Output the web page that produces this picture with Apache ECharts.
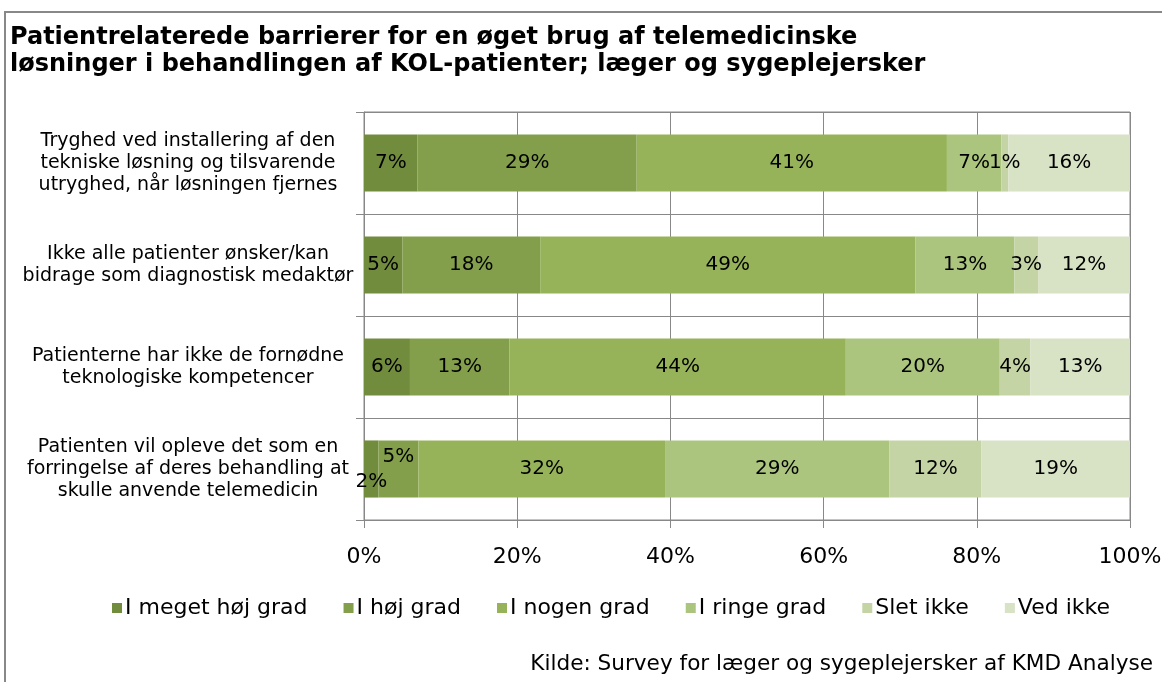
<!DOCTYPE html>
<html>
<head>
<meta charset="utf-8">
<script src="https://cdn.jsdelivr.net/npm/echarts@6/dist/echarts.min.js"></script>
<style>
html,body{margin:0;padding:0;background:#fff;}
#chart{width:1162px;height:682px;}
</style>
</head>
<body>
<div id="chart"></div>
<script>
// kategorier (øverst først)
var categories = [
	"Tryghed ved installering af den\ntekniske løsning og tilsvarende\nutryghed, når løsningen fjernes",
	"Ikke alle patienter ønsker/kan\nbidrage som diagnostisk medaktør",
	"Patienterne har ikke de fornødne\nteknologiske kompetencer",
	"Patienten vil opleve det som en\nforringelse af deres behandling at\nskulle anvende telemedicin"
];
var seriesNames = ["I meget høj grad","I høj grad","I nogen grad","I ringe grad","Slet ikke","Ved ikke"];
// andele i procent pr. svarkategori
var megetHoj = [7.0, 5.0, 6.0, 1.9];
var hoj = [28.6, 18.0, 13.0, 5.2];
var nogen = [40.5, 49.0, 43.9, 32.2];
var ringe = [7.1, 12.9, 20.1, 29.3];
var sletIkke = [0.9, 3.1, 4.0, 12.0];
var vedIkke = [15.9, 12.0, 13.0, 19.4];
var xTicks = [0, 20, 40, 60, 80, 100];

var colors = ["#728c3e","#839f4b","#97b35a","#abc57e","#c4d4a5","#d8e2c5"];
var allData = [megetHoj, hoj, nogen, ringe, sletIkke, vedIkke];

// små etiket-forskydninger som i originalen (sidste række)
function buildData(arr, idx){
	var out = [];
	for(var i=0;i<arr.length;i++){
		var item = {value: arr[i]};
		if(i==3 && idx==0){ item.label = {offset:[0,13]}; }
		if(i==3 && idx==1){ item.label = {offset:[0,-12]}; }
		out.push(item);
	}
	return out;
}

var series = [];
for(var s=0;s<seriesNames.length;s++){
	series.push({
		name: seriesNames[s],
		type: "bar",
		stack: "total",
		barWidth: "56%",
		itemStyle: {color: colors[s]},
		label: {
			show: true,
			position: "inside",
			color: "#000",
			fontFamily: "DejaVu Sans",
			fontSize: 20,
			formatter: function(p){ return Math.round(p.value) + "%"; }
		},
		emphasis: {disabled: true},
		data: buildData(allData[s], s)
	});
}

var myChart = echarts.init(document.getElementById("chart"));
var option = {
	animation: false,
	textStyle: {fontFamily: "DejaVu Sans"},
	color: colors,
	title: [{
		text: "Patientrelaterede barrierer for en øget brug af telemedicinske\nløsninger i behandlingen af KOL-patienter; læger og sygeplejersker",
		left: 5,
		top: 19,
		textStyle: {fontFamily: "DejaVu Sans", fontSize: 24, fontWeight: "bold", color: "#000", lineHeight: 27}
	},{
		text: "Kilde: Survey for læger og sygeplejersker af KMD Analyse",
		right: 4,
		top: 648,
		textStyle: {fontFamily: "DejaVu Sans", fontSize: 21.6, fontWeight: "normal", color: "#000"}
	}],
	graphic: [{
		type: "rect",
		shape: {x: 5, y: 12, width: 1170, height: 690},
		style: {fill: "none", stroke: "#888", lineWidth: 2}
	}],
	legend: {
		data: seriesNames,
		left: 107,
		top: 592,
		icon: "rect",
		itemWidth: 10,
		itemHeight: 10,
		itemGap: 36,
		textStyle: {fontFamily: "DejaVu Sans", fontSize: 22, color: "#000", padding: [0,0,0,-2]}
	},
	grid: {
		left: 364, right: 32, top: 112, bottom: 162,
		outerBoundsMode: "none",
		containLabel: false,
		show: true, borderColor: "#888", borderWidth: 1
	},
	xAxis: {
		type: "value",
		min: xTicks[0],
		max: xTicks[xTicks.length-1],
		interval: 20,
		axisLine: {show: true, lineStyle: {color: "#888"}},
		axisTick: {show: true, length: 8, lineStyle: {color: "#888"}},
		splitLine: {show: true, lineStyle: {color: "#888"}},
		axisLabel: {color: "#000", fontSize: 22, margin: 26, formatter: "{value}%"}
	},
	yAxis: {
		type: "category",
		inverse: true,
		data: categories,
		axisLine: {show: true, lineStyle: {color: "#888"}},
		axisTick: {show: true, length: 8, lineStyle: {color: "#888"}},
		splitLine: {show: true, lineStyle: {color: "#888"}},
		// linjer centreret om x≈188 som i originalen
		axisLabel: {color: "#000", fontSize: 19, lineHeight: 22, margin: 176, align: "center"}
	},
	series: series
};
myChart.setOption(option);
</script>
</body>
</html>
